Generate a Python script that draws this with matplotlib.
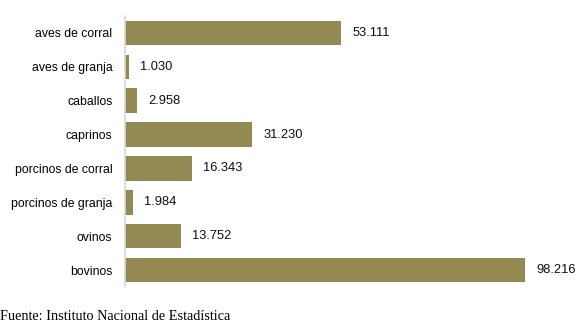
import matplotlib.pyplot as plt

categorias = ['aves de corral', 'aves de granja', 'caballos', 'caprinos',
              'porcinos de corral', 'porcinos de granja', 'ovinos', 'bovinos']
valores = [53.111, 1.030, 2.958, 31.230, 16.343, 1.984, 13.752, 98.216]
etiquetas = ['53.111', '1.030', '2.958', '31.230', '16.343', '1.984', '13.752', '98.216']

fig = plt.figure(figsize=(5.82, 3.31), dpi=100)
ax = fig.add_axes([125 / 582, 1 - 287 / 331, 450 / 582, 271 / 331])

pos = list(range(len(categorias)))
ax.barh(pos, valores, height=0.72, color='#938953', left=0)
ax.set_ylim(len(categorias) - 0.5, -0.5)
ax.set_xlim(0, 110.5)

for p, v, t in zip(pos, valores, etiquetas):
    ax.text(v + 2.7, p, t, va='center', ha='left', fontsize=9.3,
            family='Liberation Sans', color='#0d0d1a')

ax.set_yticks(pos)
ax.set_yticklabels(categorias, family='Liberation Sans', fontsize=8.8)
ax.tick_params(axis='y', length=0, pad=9)
ax.set_xticks([])
for s in ['top', 'right', 'bottom']:
    ax.spines[s].set_visible(False)
ax.spines['left'].set_color('#d9d9d9')
ax.spines['left'].set_linewidth(1.2)

fig.text(0.0, 1 - 317 / 331, 'Fuente: Instituto Nacional de Estadística',
         family='Liberation Serif', fontsize=10.3, va='center', ha='left')

fig.savefig('out.png', dpi=100)
